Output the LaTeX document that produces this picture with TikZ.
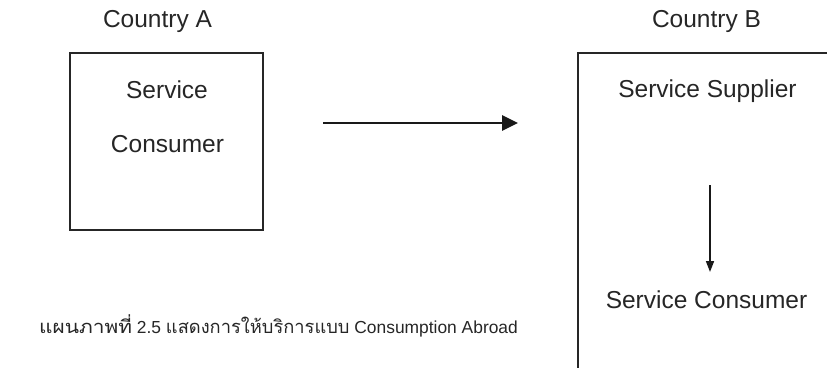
\documentclass[tikz,border=0pt]{standalone}
\usepackage{fontspec}
\setmainfont{Liberation Sans}
\newfontfamily\thaifont[Script=Thai]{Loma}
\usetikzlibrary{arrows.meta}
\begin{document}
\begin{tikzpicture}[x=1pt,y=-1pt,
  lbl/.style={inner sep=0pt, anchor=base, font=\fontsize{24.5}{28}\selectfont, text=black!85},
  frame/.style={draw=black!85, line width=2pt},
  conn/.style={draw=black!90, line width=1.8pt}]
\useasboundingbox (0,0) rectangle (827,367);
% titles
\node[lbl] (ca) at (157.5,27) {Country A};
\node[lbl] (cb) at (706.5,27) {Country B};
% box A
\node[frame, minimum width=193pt, minimum height=177pt, inner sep=0pt] (boxA) at (166.5,141.5) {};
\node[lbl] (sA1) at (167,98) {Service};
\node[lbl] (sA2) at (167.5,152) {Consumer};
% box B (open to the right and bottom)
\coordinate (bTR) at (828,53);
\coordinate (bTL) at (578,53);
\coordinate (bBL) at (578,368);
\draw[frame] (bTR) -- (bTL) -- (bBL);
\node[lbl] (sup) at (707.5,97) {Service Supplier};
\node[lbl] (con) at (706.5,308) {Service Consumer};
% arrows
\coordinate (h1) at (323,123);
\coordinate (h2) at (518,123);
\draw[conn, -{Triangle[length=16pt,width=15.5pt]}] (h1) -- (h2);
\coordinate (v1) at (710,185);
\coordinate (v2) at (710,272);
\draw[conn, line width=1.6pt, -{Triangle[length=11pt,width=8pt]}] (v1) -- (v2);
% caption
\node[inner sep=0pt, anchor=base west, font=\fontsize{17.4}{20}\selectfont, text=black!85] (cap) at (39,333)
  {\scalebox{1.14}[1]{\thaifont\fontsize{18.3}{20}\selectfont แผนภาพที่} 2.5 {\thaifont\fontsize{18.3}{20}\selectfont แสดงการให้บริการแบบ} Consumption Abroad};
\end{tikzpicture}
\end{document}
